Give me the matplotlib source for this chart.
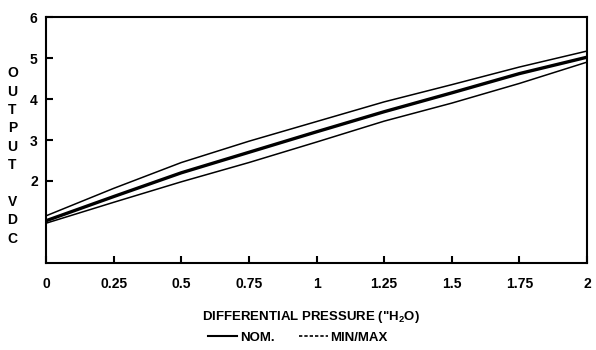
import matplotlib
matplotlib.use("Agg")
import matplotlib.pyplot as plt
from matplotlib.lines import Line2D

plt.rcParams["font.family"] = ["Liberation Sans", "DejaVu Sans"]
plt.rcParams["font.weight"] = "bold"
plt.rcParams["mathtext.default"] = "regular"

# data
pressure = [0, 0.25, 0.5, 0.75, 1.0, 1.25, 1.5, 1.75, 2.0]
nominal = [1.03, 1.62, 2.2, 2.7, 3.2, 3.69, 4.15, 4.62, 5.02]
maximum = [1.15, 1.82, 2.45, 2.97, 3.45, 3.93, 4.35, 4.78, 5.17]
minimum = [0.97, 1.48, 1.98, 2.45, 2.95, 3.46, 3.9, 4.38, 4.9]

x_ticks = [0, 0.25, 0.5, 0.75, 1, 1.25, 1.5, 1.75, 2]
x_labels = ["0", "0.25", "0.5", "0.75", "1", "1.25", "1.5", "1.75", "2"]
y_ticks = [2, 3, 4, 5, 6]

fig = plt.figure(figsize=(5.96, 3.5), dpi=100)
ax = fig.add_axes([0.0772, 0.2486, 0.9078, 0.7028])

ax.plot(pressure, maximum, color="black", lw=1.1)
ax.plot(pressure, minimum, color="black", lw=1.1)
ax.plot(pressure, nominal, color="black", lw=2.4)

ax.set_xlim(0, 2)
ax.set_ylim(0, 6)
ax.set_xticks(x_ticks)
ax.set_xticklabels(x_labels)
ax.set_yticks(y_ticks)
ax.tick_params(direction="in", length=5, width=1.5, labelsize=10, pad=10)
ax.tick_params(axis="y", pad=6)
for s in ax.spines.values():
    s.set_linewidth(1.5)

# stacked y label
fig.text(0.021, 0.554, "\n".join("OUTPUT") + "\n\n" + "\n".join("VDC"),
         ha="center", va="center", fontsize=10, fontweight="bold", linespacing=1.4)

fig.text(0.521, 0.094, 'DIFFERENTIAL PRESSURE ("H$_2$O)',
         ha="center", va="center", fontsize=9.5, fontweight="bold")

handles = [Line2D([], [], color="black", lw=1.5),
           Line2D([], [], color="black", lw=1.2, ls=(0, (2, 1.2)))]
fig.legend(handles, ["NOM.", "MIN/MAX"], loc="center", bbox_to_anchor=(0.5, 0.035),
           ncol=2, frameon=False, handlelength=2.2, handletextpad=0.2,
           columnspacing=1.8, prop={"weight": "bold", "size": 9.5})

fig.savefig("out.png", dpi=100)
